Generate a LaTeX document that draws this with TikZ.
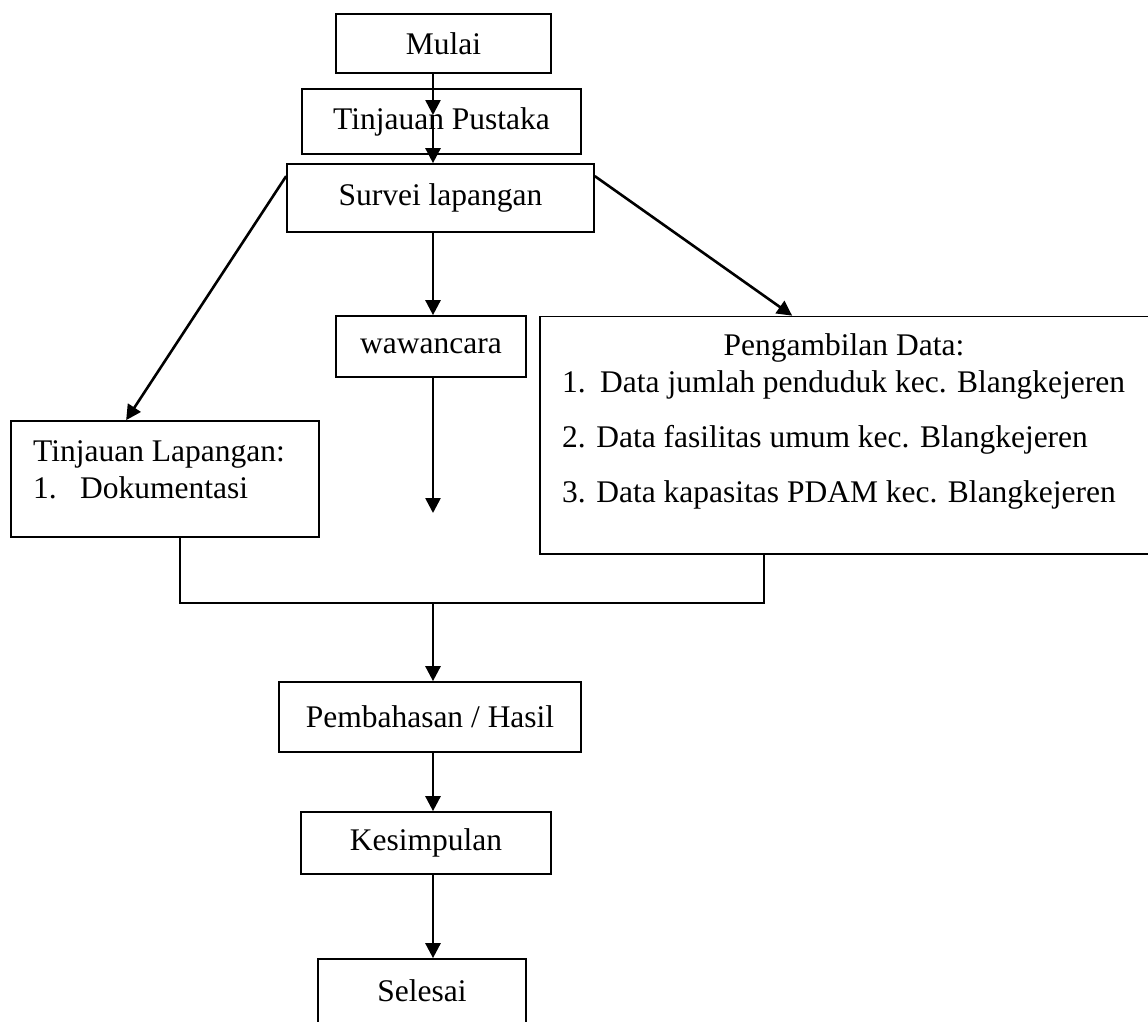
\documentclass[tikz,border=0pt]{standalone}
\usepackage{fontspec}
\setmainfont{Liberation Serif}
\usetikzlibrary{arrows.meta,calc}
\tikzset{
  box/.style={draw, line width=1.7pt, rectangle, inner sep=0pt, font=\fontsize{31.5}{36}\selectfont},
  txt/.style={inner sep=0pt, anchor=base west, font=\fontsize{31.5}{36}\selectfont},
  ctxt/.style={inner sep=0pt, anchor=base, font=\fontsize{31.5}{36}\selectfont},
  arr/.style={line width=2.6pt, -{Triangle[length=15pt,width=15pt]}},
  ln/.style={line width=2.2pt},
}
\begin{document}
\begin{tikzpicture}[x=1pt,y=-1pt]
\useasboundingbox (0,0) rectangle (1148,1021);
% boxes
\node[box, minimum width=215pt, minimum height=59pt] (mulai) at (443.5,43.5) {Mulai};
\node[box, minimum width=279pt, minimum height=65pt] (tp) at (441.5,121.5) {Tinjauan Pustaka};
\node[box, minimum width=307pt, minimum height=68pt] (sv) at (440.5,198) {Survei lapangan};
\node[box, minimum width=190pt, minimum height=61pt] (ww) at (431,346.5) {wawancara};
\node[box, minimum width=308pt, minimum height=116pt] (tl) at (165,479) {};
\node[txt] (tl1) at (33,461) {Tinjauan Lapangan:};
\node[txt] (tl2) at (33,498) {1.};
\node[txt] (tl3) at (80,498) {Dokumentasi};
\node[box, minimum width=620pt, minimum height=237.5pt] (pd) at (850,435.25) {};
\node[ctxt] (pd0) at (844,355) {Pengambilan Data:};
\node[txt] (pd1) at (562,392) {1.};
\node[txt] (pd1b) at (600,392) {Data jumlah penduduk kec. Blangkejeren};
\node[txt] (pd2) at (562,447) {2. Data fasilitas umum kec. Blangkejeren};
\node[txt] (pd3) at (562,502) {3. Data kapasitas PDAM kec. Blangkejeren};
\node[box, minimum width=302pt, minimum height=70pt] (pb) at (430,717) {Pembahasan / Hasil};
\node[box, minimum width=250pt, minimum height=62pt] (ks) at (426,843) {Kesimpulan};
\node[box, minimum width=208pt, minimum height=102pt] (sl) at (422,1010) {};
\node[ctxt] (slt) at (422,1001) {Selesai};
% connectors
\coordinate (a1) at (433,115);
\coordinate (wend) at (433,513);
\coordinate (j) at (433,603);
\draw[arr] (mulai.south -| a1) -- (a1);
\draw[arr] (a1) -- (sv.north -| a1);
\draw[arr] (sv.south -| a1) -- (ww.north -| a1);
\draw[arr] (ww.south -| a1) -- (wend);
\draw[arr] ([yshift=-13pt]sv.north west) -- ([xshift=116pt]tl.north west);
\draw[arr] ([yshift=-13pt]sv.north east) -- ([xshift=253pt]pd.north west);
\draw[ln] ([xshift=15pt]tl.south) |- (j) -| ([xshift=225pt]pd.south west);
\draw[arr] (j) -- (pb.north -| j);
\draw[arr] (pb.south -| j) -- (ks.north -| j);
\draw[arr] (ks.south -| j) -- (sl.north -| j);
\end{tikzpicture}
\end{document}
